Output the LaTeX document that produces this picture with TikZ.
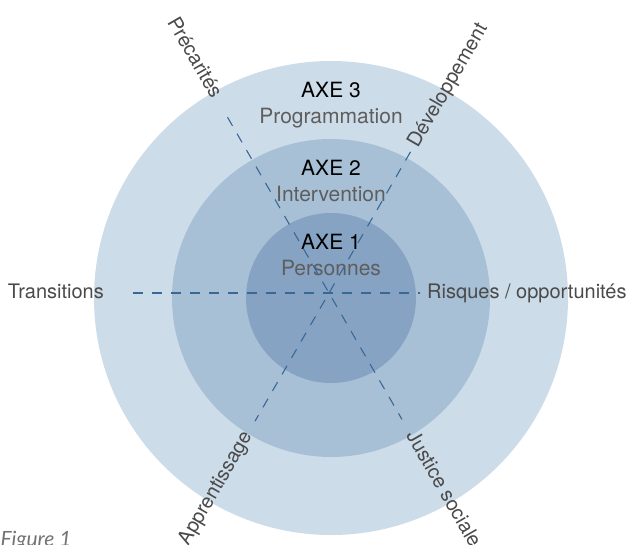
\documentclass[tikz,border=0pt]{standalone}
\usepackage{fontspec}
\setmainfont{TeX Gyre Heros}
\newfontfamily\figfont{Lato}
\usepackage{tikz}
\usetikzlibrary{positioning,calc}
\definecolor{ringC}{HTML}{CDDCE9}
\definecolor{ringB}{HTML}{A8C0D6}
\definecolor{ringA}{HTML}{86A3C4}
\definecolor{axeline}{HTML}{3A6895}
\definecolor{subgray}{HTML}{5E5E5E}
\definecolor{axgray}{HTML}{4A4A4A}

\begin{document}
\begin{tikzpicture}[x=1pt,y=1pt,node distance=26pt,on grid,
    axe/.style={inner sep=0pt,text height=15pt,text depth=4pt,font=\fontsize{21}{25}\selectfont},
    sub/.style={axe,text=subgray},
    ax/.style={inner sep=0pt,text height=14pt,text depth=4pt,text=axgray,font=\fontsize{20}{24}\selectfont},
    axis/.style={draw=axeline,line width=1.1pt,dash pattern=on 10pt off 9pt}]
   \useasboundingbox (0,0) rectangle (631,-544);
   \coordinate (O) at (331,-298);
   \coordinate (C) at (329,-293);
   \fill[ringC] (O) circle (237pt);
   \fill[ringB] (O) circle (159pt);
   \fill[ringA] (O) circle (85pt);
   \node[axe] (AX3) at (331,-91.5) {AXE 3};
   \node[sub] (PRG) [below=of AX3] {Programmation};
   \node[axe] (AX2) at (331,-169.5) {AXE 2};
   \node[sub] (INT) [below=of AX2] {Intervention};
   \node[axe] (AX1) at (331,-243.5) {AXE 1};
   \node[sub] (PER) [below=of AX1] {Personnes};
   \coordinate (PRE) at ($(C)+(120:203pt)$);
   \coordinate (JUS) at ($(C)+(300:146pt)$);
   \coordinate (DEV) at ($(C)+(60:163pt)$);
   \coordinate (APP) at ($(C)+(240:148pt)$);
   \node[ax,rotate=-60,anchor=east] (TPR) at ($(C)+(120:226pt)$) {Précarités};
   \node[ax,rotate=-60,anchor=west] (TJU) at ($(C)+(300:162pt)$) {Justice sociale};
   \node[ax,rotate=60,anchor=west] (TDE) at ($(C)+(60:169pt)$) {Développement};
   \node[ax,rotate=60,anchor=east] (TAP) at ($(C)+(240:162pt)$) {Apprentissage};
   \node[ax,anchor=base east] (TRA) at (104,-298) {Transitions};
   \node[ax,anchor=base west] (RIS) at (427,-298) {Risques / opportunités};
   \node[anchor=base west,text=black!55,font=\figfont\itshape\fontsize{21}{25}\selectfont] (FIG) at (-3,-546) {Figure 1};
    \path[axis]
    (PRE) edge (JUS)
    (DEV) edge (APP)
    (TRA) edge [shorten <=29pt,shorten >=7pt] (RIS);
\end{tikzpicture}
\end{document}
